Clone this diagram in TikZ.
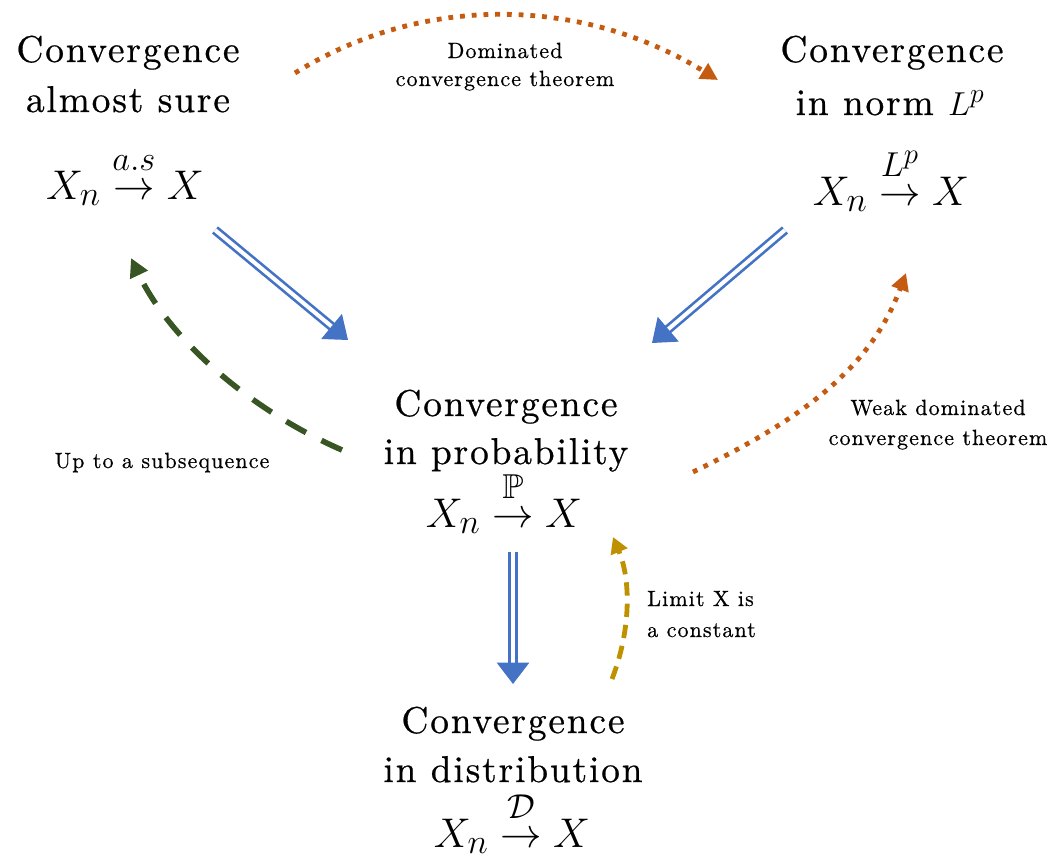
\documentclass[tikz,border=0pt]{standalone}
\usepackage{graphicx}
\usepackage{amsmath,amssymb}
\usepackage{fontspec}
\setmainfont{lmroman10-regular.otf}[LetterSpace=5,FakeBold=0.6]
\usetikzlibrary{arrows.meta}
\definecolor{cblue}{HTML}{4472C4}
\definecolor{corange}{HTML}{C55A11}
\definecolor{cgreen}{HTML}{375623}
\definecolor{cgold}{HTML}{BF9000}
\newcommand{\convto}[1]{\overset{\raisebox{3pt}{$\scriptstyle #1$}}{\to}}
\newcommand{\bigmath}[1]{\scalebox{1.25}{$#1$}}
\begin{document}
\begin{tikzpicture}[x=0.75pt,y=-0.75pt,
  head/.style={anchor=base, inner sep=0pt, font=\fontsize{28}{34}\selectfont},
  mth/.style={anchor=base, inner sep=0pt, font=\fontsize{24.88}{30}\selectfont},
  lbl/.style={anchor=base, inner sep=0pt, font=\fontsize{16.5}{20}\selectfont},
  lblL/.style={lbl, anchor=base west},
  implies/.style={draw=cblue, line width=2pt, double=white, double distance=3pt,
    -{Triangle[length=16pt,width=24pt]}},
  dotarrow/.style={draw=corange, line width=3.6pt, dash pattern=on 3.6pt off 5.2pt,
    -{Triangle[length=13pt,width=13pt]}},
  greenarrow/.style={draw=cgreen, line width=4.2pt, dash pattern=on 17pt off 13pt,
    -{Triangle[length=14pt,width=14pt]}},
  goldarrow/.style={draw=cgold, line width=3.6pt, dash pattern=on 10pt off 6pt,
    -{Triangle[length=12pt,width=13pt]}}]
\useasboundingbox (0,0) rectangle (1059,860);

% Almost sure
\node[head] (as1) at (128,62) {Convergence};
\node[head] (as2) at (128,112) {almost sure};
\node[mth] (asm) at (125,199) {\bigmath{X_n \convto{a.s} X}};

% L^p
\node[head] (lp1) at (892,62) {Convergence};
\node[head] (lp2) at (890,115) {in norm $L^p$};
\node[mth] (lpm) at (891,205) {\bigmath{X_n \convto{L^p} X}};

% Probability
\node[head] (pr1) at (506,416) {Convergence};
\node[head] (pr2) at (506,464) {in probability};
\node[mth] (prm) at (504,527) {\bigmath{X_n \convto{\mathbb{P}} X}};

% Distribution
\node[head] (di1) at (513,733) {Convergence};
\node[head] (di2) at (513,782) {in distribution};
\node[mth] (dim) at (512,847) {\bigmath{X_n \convto{\mathcal{D}} X}};

% labels
\node[lbl] (l1a) at (505,58) {Dominated};
\node[lbl] (l1b) at (505,86) {convergence theorem};
\node[lbl] (l2a) at (938,415) {Weak dominated};
\node[lbl] (l2b) at (938,445) {convergence theorem};
\node[lbl] (l3) at (162,468) {Up to a subsequence};
\node[lblL] (l4a) at (647,606) {Limit X is};
\node[lblL] (l4b) at (647,637) {a constant};

% connector end points
\coordinate (asOut) at (215,230);
\coordinate (prInL) at (348,340);
\coordinate (lpOut) at (785,230);
\coordinate (prInR) at (652,343);
\coordinate (prOut) at (513,552);
\coordinate (diIn) at (513,684);
\coordinate (asRight) at (295,73);
\coordinate (lpLeft) at (718,80);
\coordinate (prRight) at (693,472);
\coordinate (lpBelow) at (906,273);
\coordinate (prLeft) at (342,450);
\coordinate (asBelow) at (131,258);
\coordinate (diRight) at (612,679);
\coordinate (prBelow) at (613,537);

\draw[implies] (asOut) -- (prInL);
\draw[implies] (lpOut) -- (prInR);
\draw[implies] (prOut) -- (diIn);

\draw[dotarrow] (asRight) .. controls (420,-5) and (580,-5) .. (lpLeft);
\draw[dotarrow] (prRight) .. controls (800,420) and (870,370) .. (lpBelow);
\draw[greenarrow] (prLeft) .. controls (250,410) and (170,340) .. (asBelow);
\draw[goldarrow] (diRight) .. controls (631,630) and (631,580) .. (prBelow);
\end{tikzpicture}
\end{document}
